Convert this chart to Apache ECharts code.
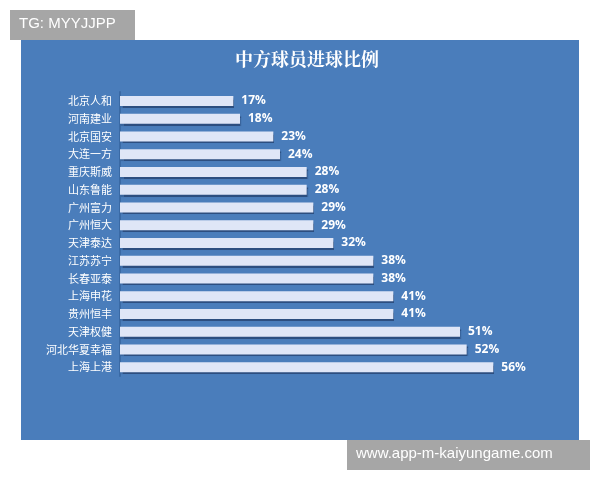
<!DOCTYPE html>
<html><head><meta charset="utf-8">
<script src="https://cdn.jsdelivr.net/npm/echarts@6/dist/echarts.min.js"></script>
<style>html,body{margin:0;padding:0;background:#fff}#c{width:600px;height:480px}</style>
</head><body><div id="c"></div>
<script>
const teams = ['北京人和','河南建业','北京国安','大连一方','重庆斯威','山东鲁能','广州富力','广州恒大','天津泰达','江苏苏宁','长春亚泰','上海申花','贵州恒丰','天津权健','河北华夏幸福','上海上港'];
const goalShare = [17,18,23,24,28,28,29,29,32,38,38,41,41,51,52,56];
const titleText = '中方球员进球比例';
const tagText = 'TG: MYYJJPP';
const siteText = 'www.app-m-kaiyungame.com';

const chart = echarts.init(document.getElementById('c'));
chart.setOption({
  backgroundColor: '#ffffff',
  animation: false,
  graphic: [
    {type:'rect', z:-10, shape:{x:21,y:40,width:558,height:400}, style:{fill:'#4a7dbb'}},
    {type:'rect', z:10, shape:{x:10,y:10,width:125,height:30}, style:{fill:'#a6a6a6'}},
    {type:'text', z:11, left:19, top:16, style:{text:tagText, fill:'#ffffff', font:'15px "Liberation Sans", Arial, sans-serif'}},
    {type:'rect', z:10, shape:{x:347,y:440,width:243,height:30}, style:{fill:'#a6a6a6'}},
    {type:'text', z:11, left:356, top:446, style:{text:siteText, fill:'#ffffff', font:'15px "Liberation Sans", Arial, sans-serif'}}
  ],
  title: {
    text: titleText, left: 302, top: 45, textAlign: 'center',
    textStyle: {color:'#ffffff', fontSize:18, fontWeight:'bold', fontFamily:'"Noto Serif CJK SC","Noto Sans CJK SC",serif'}
  },
  grid: {left:120, right:80, top:92, bottom:104},
  xAxis: {type:'value', min:0, max:60, show:false},
  yAxis: {
    type:'category', data: teams, inverse:true,
    axisLine:{show:true, lineStyle:{color:'#3a6aa5', width:2}},
    axisTick:{show:false},
    axisLabel:{color:'#ffffff', fontSize:11, margin:8, fontFamily:'"Noto Sans CJK SC",sans-serif'}
  },
  series: [{
    type:'bar', data: goalShare, barWidth:10,
    itemStyle:{color:'#dfe6f7', shadowColor:'rgba(20,40,80,0.55)', shadowOffsetY:2, shadowOffsetX:1, shadowBlur:1},
    label:{show:true, position:'right', distance:8, formatter:'{c}%', color:'#ffffff', fontWeight:'bold', fontSize:12, fontFamily:'"Open Sans","Noto Sans",sans-serif'}
  }]
});
</script></body></html>
